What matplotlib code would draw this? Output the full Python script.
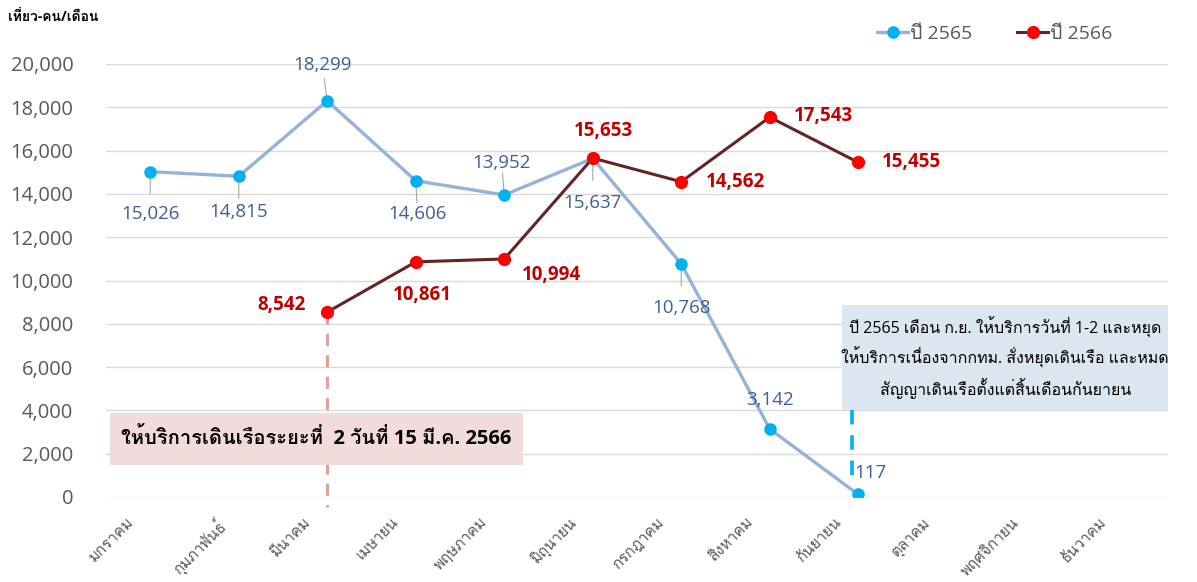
"""
Monthly boat passenger trips, 2565 vs 2566 (Thai calendar years)
"""
import matplotlib.pyplot as plt
from matplotlib import font_manager
from matplotlib.ft2font import FT2Font
from matplotlib.patches import Rectangle
from matplotlib.transforms import ScaledTranslation

months = ["มกราคม", "กุมภาพันธ์", "มีนาคม", "เมษายน", "พฤษภาคม", "มิถุนายน",
          "กรกฎาคม", "สิงหาคม", "กันยายน", "ตุลาคม", "พฤศจิกายน", "ธันวาคม"]
trips_2565 = [15026, 14815, 18299, 14606, 13952, 15637, 10768, 3142, 117]
trips_2566 = [None, None, 8542, 10861, 10994, 15653, 14562, 17543, 15455]
yticks = [0, 2000, 4000, 6000, 8000, 10000, 12000, 14000, 16000, 18000, 20000]

# label offsets in pixels (dx, dy) relative to each point
off_2565 = [(0, -42), (0, -36), (-5, 36), (2, -33), (-3, 32), (0, -45), (0, -44), (0, 29), (12, 21)]
off_2566 = [None, None, (-46, 7), (7, -33), (47, -16), (11, 27), (54, 0), (54, 1), (53, 0)]


def find_thai_font():
    for f in font_manager.fontManager.ttflist:
        try:
            if FT2Font(f.fname).get_char_index(0x0E01):
                return f.name
        except Exception:
            continue
    return "DejaVu Sans"


thai_font = find_thai_font()
plt.rcParams["font.family"] = ["Open Sans", thai_font, "DejaVu Sans"]

fig = plt.figure(figsize=(11.97, 5.82), dpi=100)
ax = fig.add_axes([106 / 1197, 1 - 497 / 582, (1168 - 106) / 1197, (497 - 64) / 582])

x_all = list(range(len(months)))
x65 = x_all[: len(trips_2565)]
x66 = [i for i, v in enumerate(trips_2566) if v is not None]
y66 = [v for v in trips_2566 if v is not None]

ax.plot(x65, trips_2565, color="#95B3D7", lw=2.4, marker="o", ms=8,
        mfc="#00B0F0", mec="#00B0F0", label="ปี 2565", zorder=4)
ax.plot(x66, y66, color="#632523", lw=2.2, marker="o", ms=8.5,
        mfc="#FF0000", mec="#FF0000", label="ปี 2566", zorder=5)

for x, v, (dx, dy) in zip(x65, trips_2565, off_2565):
    ax.annotate(f"{v:,}", (x, v), xytext=(dx, dy), textcoords="offset pixels",
                ha="center", va="center", fontsize=13.5, color="#3C6096", zorder=6)
    if abs(dy) > 30:
        sign = 1 if dy > 0 else -1
        ax.annotate("", (x, v), xytext=(dx * 0.6, sign * 22), textcoords="offset pixels",
                    arrowprops=dict(arrowstyle="-", color="#A6A6A6", lw=0.8,
                                    shrinkA=0, shrinkB=4))

for x, v, (dx, dy) in zip(x66, y66, [o for o in off_2566 if o is not None]):
    ax.annotate(f"{v:,}", (x, v), xytext=(dx, dy), textcoords="offset pixels",
                ha="center", va="center", fontsize=13.5, fontweight="bold",
                color="#C00000", zorder=6)

# reference lines for the notes
ax.plot([2, 2], [8542, -450], color="#E0A0A0", lw=2.2, ls=(0, (4, 3)), clip_on=False, zorder=3)
ax.plot([7.93, 7.93], [4019, 780], color="#00B0F0", lw=2.6, ls=(0, (4, 3)), zorder=3)

# note boxes
ax.add_patch(Rectangle((-0.452, 1478), 4.667, 2402, fc="#F2DCDB", ec="none", zorder=6))
ax.text(1.88, 2680, "ให้บริการเดินเรือระยะที่  2 วันที่ 15 มี.ค. 2566", ha="center", va="center",
        fontsize=14.5, fontweight="bold", color="black", zorder=7)
ax.add_patch(Rectangle((7.82, 4019), 3.68, 4849, fc="#DCE6F1", ec="none", zorder=6,
                       clip_on=False))
ax.text(9.66, 6440,
        "ปี 2565 เดือน ก.ย. ให้บริการวันที่ 1-2 และหยุด\nให้บริการเนื่องจากกทม. สั่งหยุดเดินเรือ และหมด\nสัญญาเดินเรือตั้งแต่สิ้นเดือนกันยายน",
        ha="center", va="center", fontsize=11.5, color="black", linespacing=1.55, zorder=7)

ax.set_xlim(-0.5, len(months) - 0.5)
ax.set_ylim(0, 20000)
ax.set_yticks(yticks)
ax.set_yticklabels([f"{t:,}" for t in yticks])
ax.set_xticks(x_all)
ax.set_xticklabels(months, rotation=45, ha="right", rotation_mode="anchor", fontsize=11, color="#595959")
ax.tick_params(axis="y", labelsize=14.5, labelcolor="#595959", length=0, pad=23.5)
ax.tick_params(axis="x", length=0, pad=13)
for lbl in ax.get_xticklabels():
    lbl.set_transform(lbl.get_transform() + ScaledTranslation(-0.24, 0, fig.dpi_scale_trans))
ax.grid(axis="y", color="#D9D9D9", lw=1)
ax.set_axisbelow(True)
for s in ax.spines.values():
    s.set_visible(False)

fig.text(8 / 1197, 1 - 17 / 582, "เที่ยว-คน/เดือน", fontsize=10, fontweight="bold",
         ha="left", va="center")
fig.legend(loc="center", bbox_to_anchor=(995 / 1197, 1 - 34 / 582), ncol=2, frameon=False,
           fontsize=14, handlelength=1.6, handletextpad=0.1, columnspacing=2.3,
           labelcolor="#595959")

fig.savefig("out.png", dpi=100)
